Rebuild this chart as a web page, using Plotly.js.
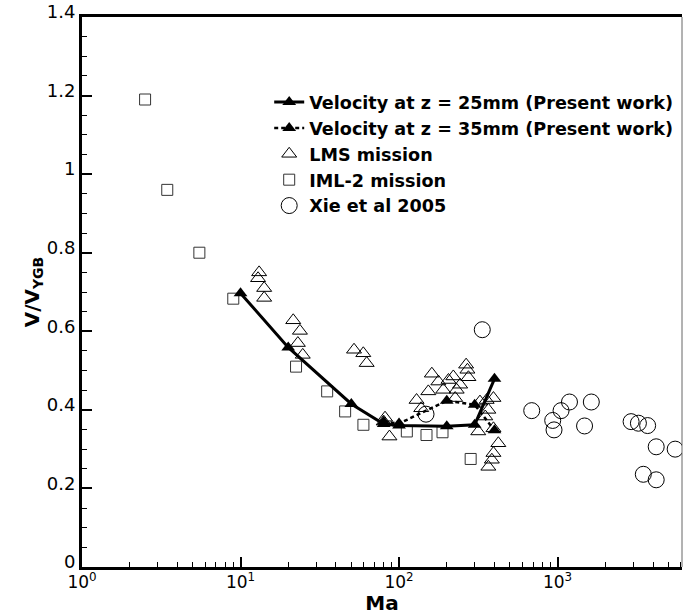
<!DOCTYPE html>
<html>
<head>
<meta charset="utf-8">
<script src="https://cdn.plot.ly/plotly-3.0.1.min.js"></script>
<style>
html,body{margin:0;padding:0;background:#fff;}
#chart{width:683px;height:615px;}
</style>
</head>
<body>
<div id="chart"></div>
<script>
// Velocity at z = 25mm (Present work)
var z25Ma = [10, 20, 50, 80, 100, 200, 300, 400];
var z25V  = [0.697, 0.559, 0.415, 0.364, 0.360, 0.358, 0.362, 0.479];
// Velocity at z = 35mm (Present work)
var z35Ma = [80, 100, 200, 300, 400];
var z35V  = [0.370, 0.365, 0.423, 0.413, 0.348];
// LMS mission
var lmsMa = [13.1, 12.9, 14.1, 14.1, 21.5, 23.7, 23, 24.7, 52, 59.5, 62.5, 81.6, 87, 80,
             129, 138, 153, 161, 177, 190, 205, 220, 226, 231, 243, 265, 270, 274,
             324, 357, 366, 394, 350, 316, 394, 423, 394, 385, 366];
var lmsV  = [0.750, 0.735, 0.710, 0.685, 0.628, 0.601, 0.570, 0.540, 0.553, 0.544, 0.519, 0.380, 0.332, 0.370,
             0.425, 0.404, 0.447, 0.492, 0.472, 0.451, 0.476, 0.485, 0.430, 0.451, 0.464, 0.515, 0.502, 0.483,
             0.421, 0.425, 0.400, 0.430, 0.383, 0.345, 0.353, 0.315, 0.290, 0.273, 0.255];
// IML-2 mission
var imlMa = [2.5, 3.45, 5.5, 9.0, 22.4, 35.2, 45.7, 59.6, 112, 149, 188, 283];
var imlV  = [1.19, 0.96, 0.80, 0.683, 0.51, 0.447, 0.396, 0.362, 0.345, 0.336, 0.343, 0.275];
// Xie et al 2005
var xieMa = [148, 335, 687, 932, 950, 1052, 1189, 1480, 1633, 2910, 3236, 3700, 4190, 5520, 3475, 4190];
var xieV  = [0.389, 0.604, 0.398, 0.373, 0.349, 0.398, 0.420, 0.359, 0.420, 0.370, 0.366, 0.360, 0.306, 0.300, 0.236, 0.222];
// Axis ticks
var xTickVals = [1, 10, 100, 1000];
var xTickText = ['10<sup>0</sup>', '10<sup>1</sup>', '10<sup>2</sup>', '10<sup>3</sup>'];
var yTickVals = [0, 0.2, 0.4, 0.6, 0.8, 1, 1.2, 1.4];
var yTickText = ['0', '0.2', '0.4', '0.6', '0.8', '1', '1.2', '1.4'];

var FONT = 'DejaVu Sans, Liberation Sans, Arial, sans-serif';

var traces = [
  {x: lmsMa, y: lmsV, type: 'scatter', mode: 'markers', name: 'LMS mission', legendrank: 3,
   marker: {symbol: 'triangle-up-open', size: 13, color: '#000', line: {width: 1, color: '#000'}}},
  {x: imlMa, y: imlV, type: 'scatter', mode: 'markers', name: 'IML-2 mission', legendrank: 4,
   marker: {symbol: 'square-open', size: 11, color: '#333', line: {width: 1, color: '#333'}}},
  {x: xieMa, y: xieV, type: 'scatter', mode: 'markers', name: 'Xie et al 2005', legendrank: 5,
   marker: {symbol: 'circle-open', size: 16, color: '#000', line: {width: 1, color: '#000'}}},
  {x: z35Ma, y: z35V, type: 'scatter', mode: 'lines+markers', name: 'Velocity at z = 35mm (Present work)', legendrank: 2,
   line: {color: '#000', width: 2.5, dash: '4px,3px'},
   marker: {symbol: 'triangle-up', size: 12, color: '#000'}},
  {x: z25Ma, y: z25V, type: 'scatter', mode: 'lines+markers', name: 'Velocity at z = 25mm (Present work)', legendrank: 1,
   line: {color: '#000', width: 3},
   marker: {symbol: 'triangle-up', size: 12, color: '#000'}}
];

var layout = {
  width: 683, height: 615,
  margin: {l: 82, r: 1, t: 17, b: 48, pad: 0, autoexpand: false},
  paper_bgcolor: '#fff', plot_bgcolor: '#fff',
  font: {family: FONT, color: '#000', size: 16},
  showlegend: true,
  legend: {
    x: 0.312, y: 0.878, xanchor: 'left', yanchor: 'top',
    bgcolor: 'rgba(0,0,0,0)', borderwidth: 0,
    font: {family: FONT, size: 17.6, color: '#000', weight: 'bold'},
    itemwidth: 30, tracegroupgap: 0
  },
  xaxis: {
    type: 'log', range: [0, 3.785],
    tickmode: 'array', tickvals: xTickVals, ticktext: xTickText,
    ticks: 'inside', ticklen: 10, tickwidth: 2, tickcolor: '#000',
    ticklabelstandoff: -2,
    showline: true, linewidth: 3, linecolor: '#000', mirror: true,
    showgrid: false, zeroline: false,
    tickfont: {family: FONT, size: 17, color: '#000'},
    minor: {ticks: 'inside', ticklen: 5, tickwidth: 1, tickcolor: '#000', dtick: 'D1', showgrid: false},
    title: {text: '<b>Ma</b>', font: {family: FONT, size: 20, color: '#000'}, standoff: 3}
  },
  yaxis: {
    range: [0, 1.4],
    tickmode: 'array', tickvals: yTickVals, ticktext: yTickText,
    ticks: 'inside', ticklen: 10, tickwidth: 2, tickcolor: '#000',
    ticklabelshift: -5,
    showline: true, linewidth: 3, linecolor: '#000',
    showgrid: false, zeroline: false,
    tickfont: {family: FONT, size: 18, color: '#000'},
    minor: {ticks: 'inside', ticklen: 5, tickwidth: 1, tickcolor: '#000', dtick: 0.05, showgrid: false},
    title: {text: '<b>V/V<sub>YGB</sub></b>', font: {family: FONT, size: 20, color: '#000'}, standoff: 2}
  },
  shapes: [
    {type: 'line', xref: 'paper', yref: 'paper', x0: 1, x1: 1, y0: 0, y1: 1,
     line: {color: '#666', width: 1}}
  ]
};

Plotly.newPlot('chart', traces, layout, {displayModeBar: false, staticPlot: true});
</script>
</body>
</html>
